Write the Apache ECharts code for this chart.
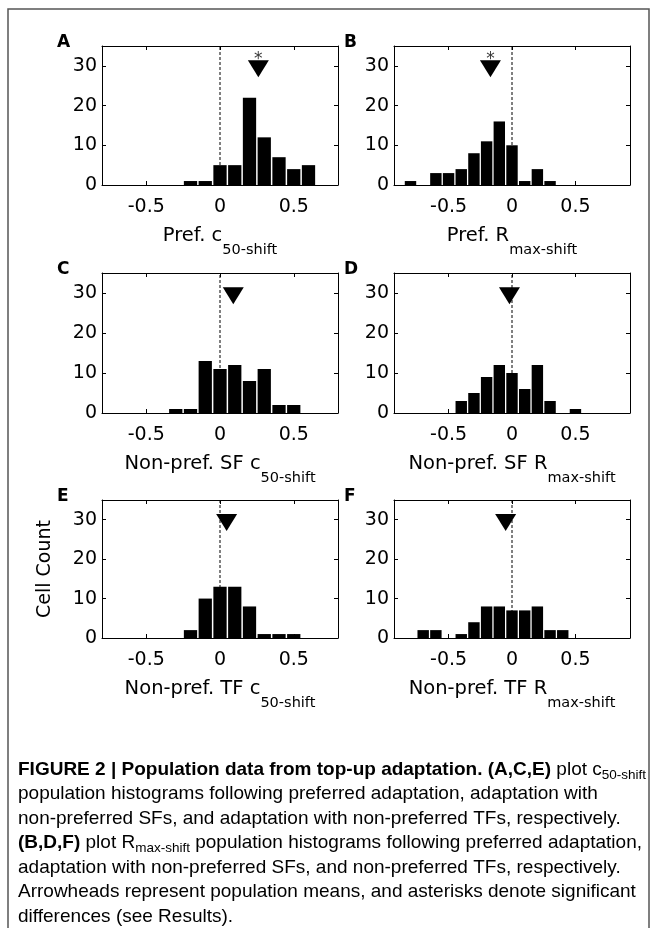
<!DOCTYPE html>
<html><head><meta charset="utf-8">
<script src="https://cdn.jsdelivr.net/npm/echarts@6/dist/echarts.min.js"></script>
<style>html,body{margin:0;padding:0;background:#fff}#c{width:657px;height:928px}</style>
</head><body><div id="c"></div>
<script>
// ---- data ----
const binsA = [-0.2, -0.1, 0, 0.1, 0.2, 0.3, 0.4, 0.5, 0.6];
const countsA = [1, 1, 5, 5, 22, 12, 7, 4, 5];
const binsB = [-0.8, -0.6, -0.5, -0.4, -0.3, -0.2, -0.1, 0, 0.1, 0.2, 0.3];
const countsB = [1, 3, 3, 4, 8, 11, 16, 10, 1, 4, 1];
const binsC = [-0.3, -0.2, -0.1, 0, 0.1, 0.2, 0.3, 0.4, 0.5];
const countsC = [1, 1, 13, 11, 12, 8, 11, 2, 2];
const binsD = [-0.4, -0.3, -0.2, -0.1, 0, 0.1, 0.2, 0.3, 0.5];
const countsD = [3, 5, 9, 12, 10, 6, 12, 3, 1];
const binsE = [-0.2, -0.1, 0, 0.1, 0.2, 0.3, 0.4, 0.5];
const countsE = [2, 10, 13, 13, 8, 1, 1, 1];
const binsF = [-0.7, -0.6, -0.4, -0.3, -0.2, -0.1, 0, 0.1, 0.2, 0.3, 0.4];
const countsF = [2, 2, 1, 4, 8, 8, 7, 7, 8, 2, 2];
const means = [0.26, -0.17, 0.09, -0.02, 0.045, -0.05];
const significant = [true, true, false, false, false, false];
const xTicks = [-0.5, 0, 0.5];
const yTicks = [0, 10, 20, 30];
const yMax = 35;
const xRangeLeft = [-0.8, 0.8];
const xRangeRight = [-0.93, 0.93];
const arrowY = 29.3;
const starY = 31.6;
const letters = ['A', 'B', 'C', 'D', 'E', 'F'];
const titleMain = ['Pref. c', 'Pref. R', 'Non-pref. SF c', 'Non-pref. SF R', 'Non-pref. TF c', 'Non-pref. TF R'];
const titleSub = ['50-shift', 'max-shift', '50-shift', 'max-shift', '50-shift', 'max-shift'];
const yName = 'Cell Count';
const captionLines = [
  '{b|FIGURE 2 | Population data from top-up adaptation. (A,C,E)}{n| plot c}{s|50-shift}',
  '{n|population histograms following preferred adaptation, adaptation with}',
  '{n|non-preferred SFs, and adaptation with non-preferred TFs, respectively.}',
  '{b|(B,D,F)}{n| plot R}{s|max-shift}{n| population histograms following preferred adaptation,}',
  '{n|adaptation with non-preferred SFs, and non-preferred TFs, respectively.}',
  '{n|Arrowheads represent population means, and asterisks denote significant}',
  '{n|differences (see Results).}'
];

// ---- layout ----
const FONT = 'DejaVu Sans';
const colLeft = [102, 394];
const rowTop = [46, 273, 500];
const rowH = [139, 140, 138];
const gridW = 236;
const HALF = 0.045;

const bins = [binsA, binsB, binsC, binsD, binsE, binsF];
const counts = [countsA, countsB, countsC, countsD, countsE, countsF];

const grids = [], xAxes = [], yAxes = [], series = [], graphics = [];

for (let i = 0; i < 6; i++) {
  const col = i % 2, row = Math.floor(i / 2);
  const range = col === 0 ? xRangeLeft : xRangeRight;
  grids.push({left: colLeft[col], top: rowTop[row], width: gridW, height: rowH[row], containLabel: false});
  const lineSt = {show: true, onZero: false, lineStyle: {color: '#000', width: 1}};
  const xBase = {type: 'value', gridIndex: i, min: range[0], max: range[1], splitLine: {show: false},
    axisLine: lineSt, axisTick: {show: true, inside: true, length: 4, customValues: xTicks, lineStyle: {color: '#000'}}};
  xAxes.push(Object.assign({}, xBase, {position: 'bottom',
    axisLabel: {show: true, customValues: xTicks, margin: 13, fontFamily: FONT, fontSize: 19, color: '#000',
      formatter: v => String(v)},
    name: '{m|' + titleMain[i] + '}{s|' + titleSub[i] + '}', nameLocation: 'middle', nameGap: 41,
    nameTextStyle: {rich: {
      m: {fontFamily: FONT, fontSize: 19.5, lineHeight: 22, color: '#000', verticalAlign: 'top'},
      s: {fontFamily: FONT, fontSize: 14.5, lineHeight: 16, color: '#000', verticalAlign: 'top', padding: [17, 0, 0, 0]}
    }}}));
  xAxes.push(Object.assign({}, xBase, {position: 'top', axisLabel: {show: false}}));
  const yBase = {type: 'value', gridIndex: i, min: 0, max: yMax, splitLine: {show: false},
    axisLine: lineSt, axisTick: {show: true, inside: true, length: 4, customValues: yTicks, lineStyle: {color: '#000'}}};
  const yLeft = Object.assign({}, yBase, {position: 'left',
    axisLabel: {show: true, customValues: yTicks, margin: 5, fontFamily: FONT, fontSize: 19, color: '#000'}});
  if (i === 4) {
    Object.assign(yLeft, {name: yName, nameLocation: 'middle', nameGap: 47, nameRotate: 90,
      nameTextStyle: {fontFamily: FONT, fontSize: 19, color: '#000'}});
  }
  yAxes.push(yLeft);
  yAxes.push(Object.assign({}, yBase, {position: 'right', axisLabel: {show: false}}));

  const xi = 2 * i, yi = 2 * i;
  series.push({type: 'line', xAxisIndex: xi, yAxisIndex: yi, data: [[0, 0], [0, yMax]], symbol: 'none', silent: true,
    lineStyle: {color: '#000', width: 1, type: [3, 2]}, z: 1, animation: false});
  series.push({type: 'custom', xAxisIndex: xi, yAxisIndex: yi, z: 2, animation: false, silent: true,
    data: bins[i].map((b, k) => [b, counts[i][k]]),
    renderItem: function (params, api) {
      const c = api.value(0), h = api.value(1);
      const p0 = api.coord([c - HALF, 0]);
      const p1 = api.coord([c + HALF, h]);
      return {type: 'rect', shape: {x: p0[0], y: p1[1], width: p1[0] - p0[0], height: p0[1] - p1[1]},
        style: {fill: '#000'}};
    }});
  series.push({type: 'scatter', xAxisIndex: xi, yAxisIndex: yi, z: 3, animation: false, silent: true,
    data: [[means[i], arrowY]], symbol: 'triangle', symbolSize: [21, 17], symbolRotate: 180,
    itemStyle: {color: '#000', opacity: 1}});
  if (significant[i]) {
    series.push({type: 'scatter', xAxisIndex: xi, yAxisIndex: yi, z: 3, animation: false, silent: true,
      data: [[means[i], starY]], symbolSize: 1, itemStyle: {color: 'rgba(0,0,0,0)'},
      label: {show: true, position: 'inside', formatter: '*', fontFamily: FONT, fontSize: 17, color: '#000'}});
  }
  graphics.push({type: 'text', left: col === 0 ? 57 : 344, top: rowTop[row] - 12,
    style: {text: letters[i], font: 'bold 17px "DejaVu Sans"', fill: '#000'}});
}

// frame
graphics.push({type: 'rect', shape: {x: 8, y: 9, width: 641, height: 940},
  style: {fill: 'none', stroke: '#555', lineWidth: 1.5}, silent: true});
// caption
const capRich = {
  b: {fontFamily: 'Liberation Sans', fontWeight: 'bold', fontSize: 19, lineHeight: 21, color: '#111', verticalAlign: 'top'},
  n: {fontFamily: 'Liberation Sans', fontSize: 19, lineHeight: 21, color: '#333', verticalAlign: 'top'},
  s: {fontFamily: 'Liberation Sans', fontSize: 13.5, lineHeight: 15, color: '#333', verticalAlign: 'top', padding: [8, 0, 0, 0]}
};
captionLines.forEach((t, k) => {
  graphics.push({type: 'text', x: 18, y: 760 + k * 24.5,
    style: {text: t, rich: capRich, verticalAlign: 'top', align: 'left'}});
});

const chart = echarts.init(document.getElementById('c'), null, {renderer: 'canvas'});
chart.setOption({animation: false, backgroundColor: '#fff', grid: grids, xAxis: xAxes, yAxis: yAxes, series: series, graphic: graphics});
</script></body></html>
